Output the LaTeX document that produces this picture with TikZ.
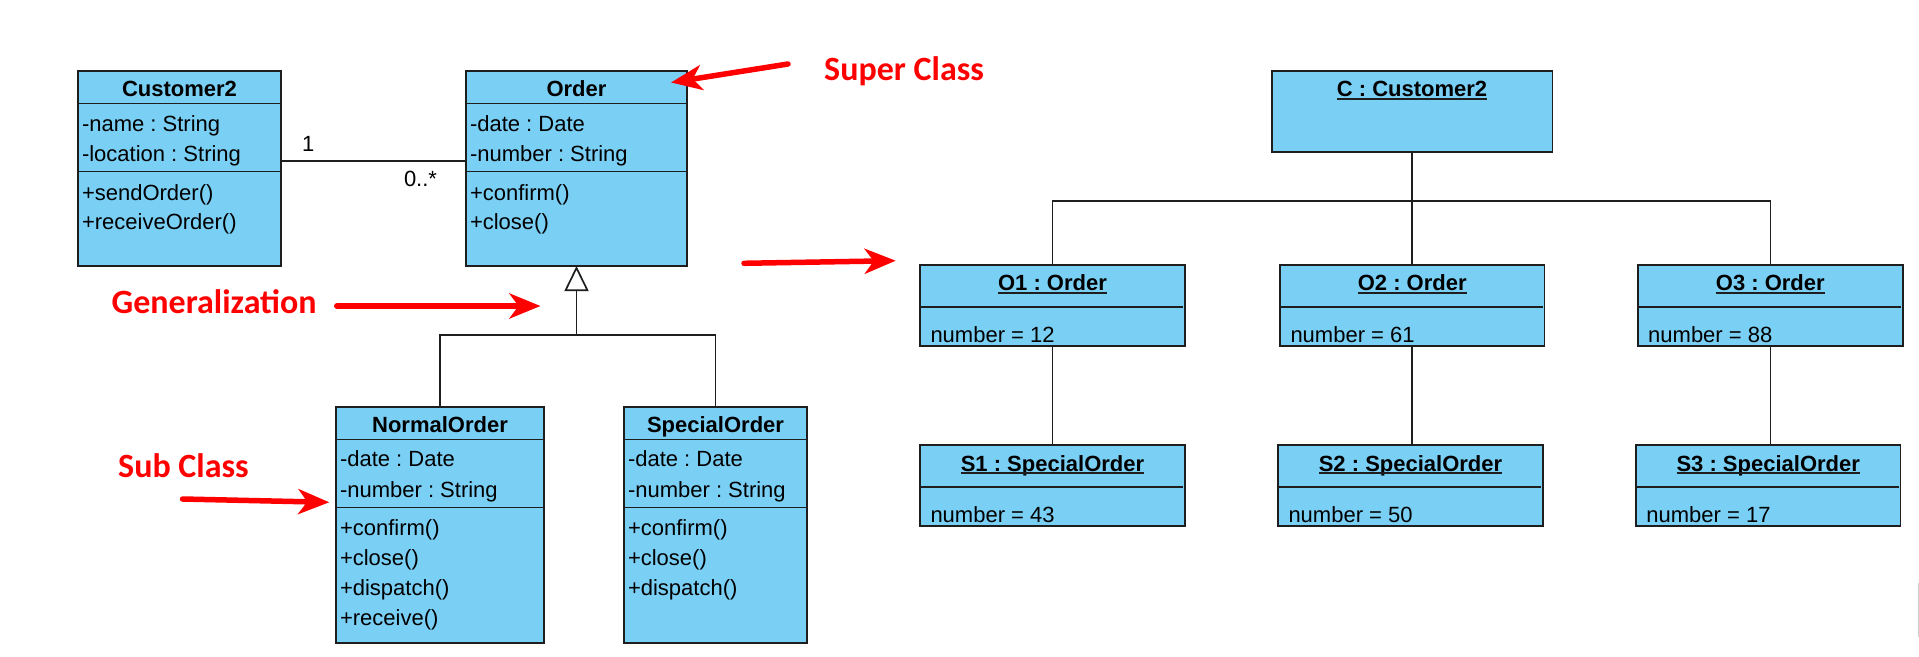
\documentclass[tikz,border=0pt]{standalone}
\usepackage{fontspec}
\setmainfont{Liberation Sans}
\newfontfamily\annfont{Carlito}
\usetikzlibrary{arrows.meta,calc}
\definecolor{umlfill}{RGB}{122,207,245}
\definecolor{umlline}{RGB}{30,30,30}
\definecolor{annred}{RGB}{255,0,0}
\frenchspacing
\begin{document}
\begin{tikzpicture}[x=1pt,y=-1pt,
  box/.style={draw=umlline, fill=umlfill, line width=1.7pt, rectangle, inner sep=0pt, outer sep=0pt, anchor=north west},
  sepline/.style={draw=umlline, line width=1.7pt},
  conn/.style={draw=umlline, line width=1.7pt},
  txt/.style={anchor=base west, inner sep=0pt, outer sep=0pt, font=\fontsize{22}{26}\selectfont},
  ttl/.style={anchor=base, inner sep=0pt, outer sep=0pt, font=\fontsize{22}{26}\selectfont\bfseries},
  ann/.style={anchor=base west, inner sep=0pt, text=annred, font=\annfont\bfseries\fontsize{34}{40}\selectfont},
  redarrow/.style={draw=annred, line width=5.5pt, line cap=round, -{Stealth[length=31pt,width=25pt,inset=9pt]}},
]
\fill[white] (0,0) rectangle (1919,656);
\useasboundingbox (0,0) rectangle (1919,656);

% ---------- class diagram ----------
\node[box, minimum width=203pt, minimum height=195pt] (cust) at (78,71) {};
\draw[sepline] (78,103.5) -- (281,103.5);
\draw[sepline] (78,171.5) -- (281,171.5);
\node[ttl] (custT) at (179.5,96.7) {Customer2};
\node[txt] (custA1) at (82,131.7) {-name : String};
\node[txt] (custA2) at (82,161.7) {-location : String};
\node[txt] (custM1) at (82,200) {+sendOrder()};
\node[txt] (custM2) at (82,229.5) {+receiveOrder()};

\node[box, minimum width=221pt, minimum height=195pt] (order) at (466,71) {};
\draw[sepline] (466,103.5) -- (687,103.5);
\draw[sepline] (466,171.5) -- (687,171.5);
\node[ttl] (orderT) at (576.5,96.7) {Order};
\node[txt] (orderA1) at (470,131.7) {-date : Date};
\node[txt] (orderA2) at (470,161.7) {-number : String};
\node[txt] (orderM1) at (470,200) {+confirm()};
\node[txt] (orderM2) at (470,229.5) {+close()};

\node[box, minimum width=208pt, minimum height=236pt] (normal) at (336,407) {};
\draw[sepline] (336,439.5) -- (544,439.5);
\draw[sepline] (336,507.5) -- (544,507.5);
\node[ttl] (normalT) at (440,432.7) {NormalOrder};
\node[txt] (normalA1) at (340,466.7) {-date : Date};
\node[txt] (normalA2) at (340,497) {-number : String};
\node[txt] (normalM1) at (340,535.3) {+confirm()};
\node[txt] (normalM2) at (340,565) {+close()};
\node[txt] (normalM3) at (340,595) {+dispatch()};
\node[txt] (normalM4) at (340,625) {+receive()};

\node[box, minimum width=183pt, minimum height=236pt] (special) at (624,407) {};
\draw[sepline] (624,439.5) -- (807,439.5);
\draw[sepline] (624,507.5) -- (807,507.5);
\node[ttl] (specialT) at (715.5,432.7) {SpecialOrder};
\node[txt] (specialA1) at (628,466.7) {-date : Date};
\node[txt] (specialA2) at (628,497) {-number : String};
\node[txt] (specialM1) at (628,535.3) {+confirm()};
\node[txt] (specialM2) at (628,565) {+close()};
\node[txt] (specialM3) at (628,595) {+dispatch()};

% association
\draw[conn] ([yshift=7.5pt]cust.east) -- ([yshift=7.5pt]order.west);
\node[txt] (mult1) at (302,151) {1};
\node[txt] (mult2) at (404,186.7) {0..*};

% generalization
\coordinate (gj) at (576.5,335.3);
\draw[conn] (normal.north) |- (gj);
\draw[conn] (special.north) |- (gj);
\draw[conn, -{Triangle[open, length=25pt, width=24pt]}] (gj) -- (order.south);

% ---------- object diagram ----------
\node[box, minimum width=280.5pt, minimum height=80.7pt] (C) at (1272,71) {};
\node[ttl] (CT) at (1412,96.7) {C : Customer2};

\node[box, minimum width=265pt, minimum height=80.7pt] (o1) at (920,265) {};
\node[box, minimum width=264.5pt, minimum height=80.7pt] (o2) at (1280,265) {};
\node[box, minimum width=265.3pt, minimum height=80.7pt] (o3) at (1637.7,265) {};
\node[box, minimum width=265pt, minimum height=80.4pt] (s1) at (920,445.3) {};
\node[box, minimum width=265pt, minimum height=80.4pt] (s2) at (1278,445.3) {};
\node[box, minimum width=264.5pt, minimum height=80.4pt] (s3) at (1636,445.3) {};
\draw[sepline] (920,307.3) -- (1183,307.3);
\draw[sepline] (1280,307.3) -- (1542.5,307.3);
\draw[sepline] (1637.7,307.3) -- (1901,307.3);
\draw[sepline] (920,487) -- (1183,487);
\draw[sepline] (1278,487) -- (1541,487);
\draw[sepline] (1636,487) -- (1898.5,487);

\node[ttl] (o1T) at (1052.5,290.7) {O1 : Order};
\node[ttl] (o2T) at (1412.2,290.7) {O2 : Order};
\node[ttl] (o3T) at (1770.3,290.7) {O3 : Order};
\node[ttl] (s1T) at (1052.5,471) {S1 : SpecialOrder};
\node[ttl] (s2T) at (1410.5,471) {S2 : SpecialOrder};
\node[ttl] (s3T) at (1768.2,471) {S3 : SpecialOrder};
\foreach \n in {CT,o1T,o2T,o3T,s1T,s2T,s3T}
  \draw[umlline, line width=1.5pt] ([yshift=-2.2pt]\n.base west) -- ([yshift=-2.2pt]\n.base east);

\node[txt] (o1V) at (930.5,342.7) {number = 12};
\node[txt] (o2V) at (1290.5,342.7) {number = 61};
\node[txt] (o3V) at (1648.2,342.7) {number = 88};
\node[txt] (s1V) at (930.5,522.7) {number = 43};
\node[txt] (s2V) at (1288.5,522.7) {number = 50};
\node[txt] (s3V) at (1646.4,522.7) {number = 17};

\coordinate (bus) at (0,201);
\draw[conn] (C.south) -- (C.south |- bus);
\draw[conn] (o1.north) -- (o1.north |- bus) -- (o3.north |- bus) -- (o3.north);
\draw[conn] (o2.north) -- (o2.north |- bus);
\draw[conn] (o1.south) -- (s1.north);
\draw[conn] (o2.south) -- (o2.south |- s2.north);
\draw[conn] (o3.south) -- (o3.south |- s3.north);

% ---------- annotations ----------
\node[ann] (superL) at (824,80) {Super Class};
\node[ann] (genL) at (111.5,313.3) {Generalization};
\node[ann] (subL) at (118,477.3) {Sub Class};

\coordinate (superTail) at (788,64);
\coordinate (superTip) at (671,82.5);
\coordinate (midTail) at (744,263.3);
\coordinate (midTip) at (895.7,260.7);
\coordinate (genTail) at (337,306);
\coordinate (genTip) at (540.5,306);
\coordinate (subTail) at (182.5,499);
\coordinate (subTip) at (329.3,502.3);
\draw[redarrow] (superTail) -- (superTip);
\draw[redarrow] (midTail) -- (midTip);
\draw[redarrow, line width=6pt] (genTail) -- (genTip);
\draw[redarrow] (subTail) -- (subTip);

% edge artefact
\draw[gray!35, line width=1pt] (1918,583) -- (1918,637);
\end{tikzpicture}
\end{document}
